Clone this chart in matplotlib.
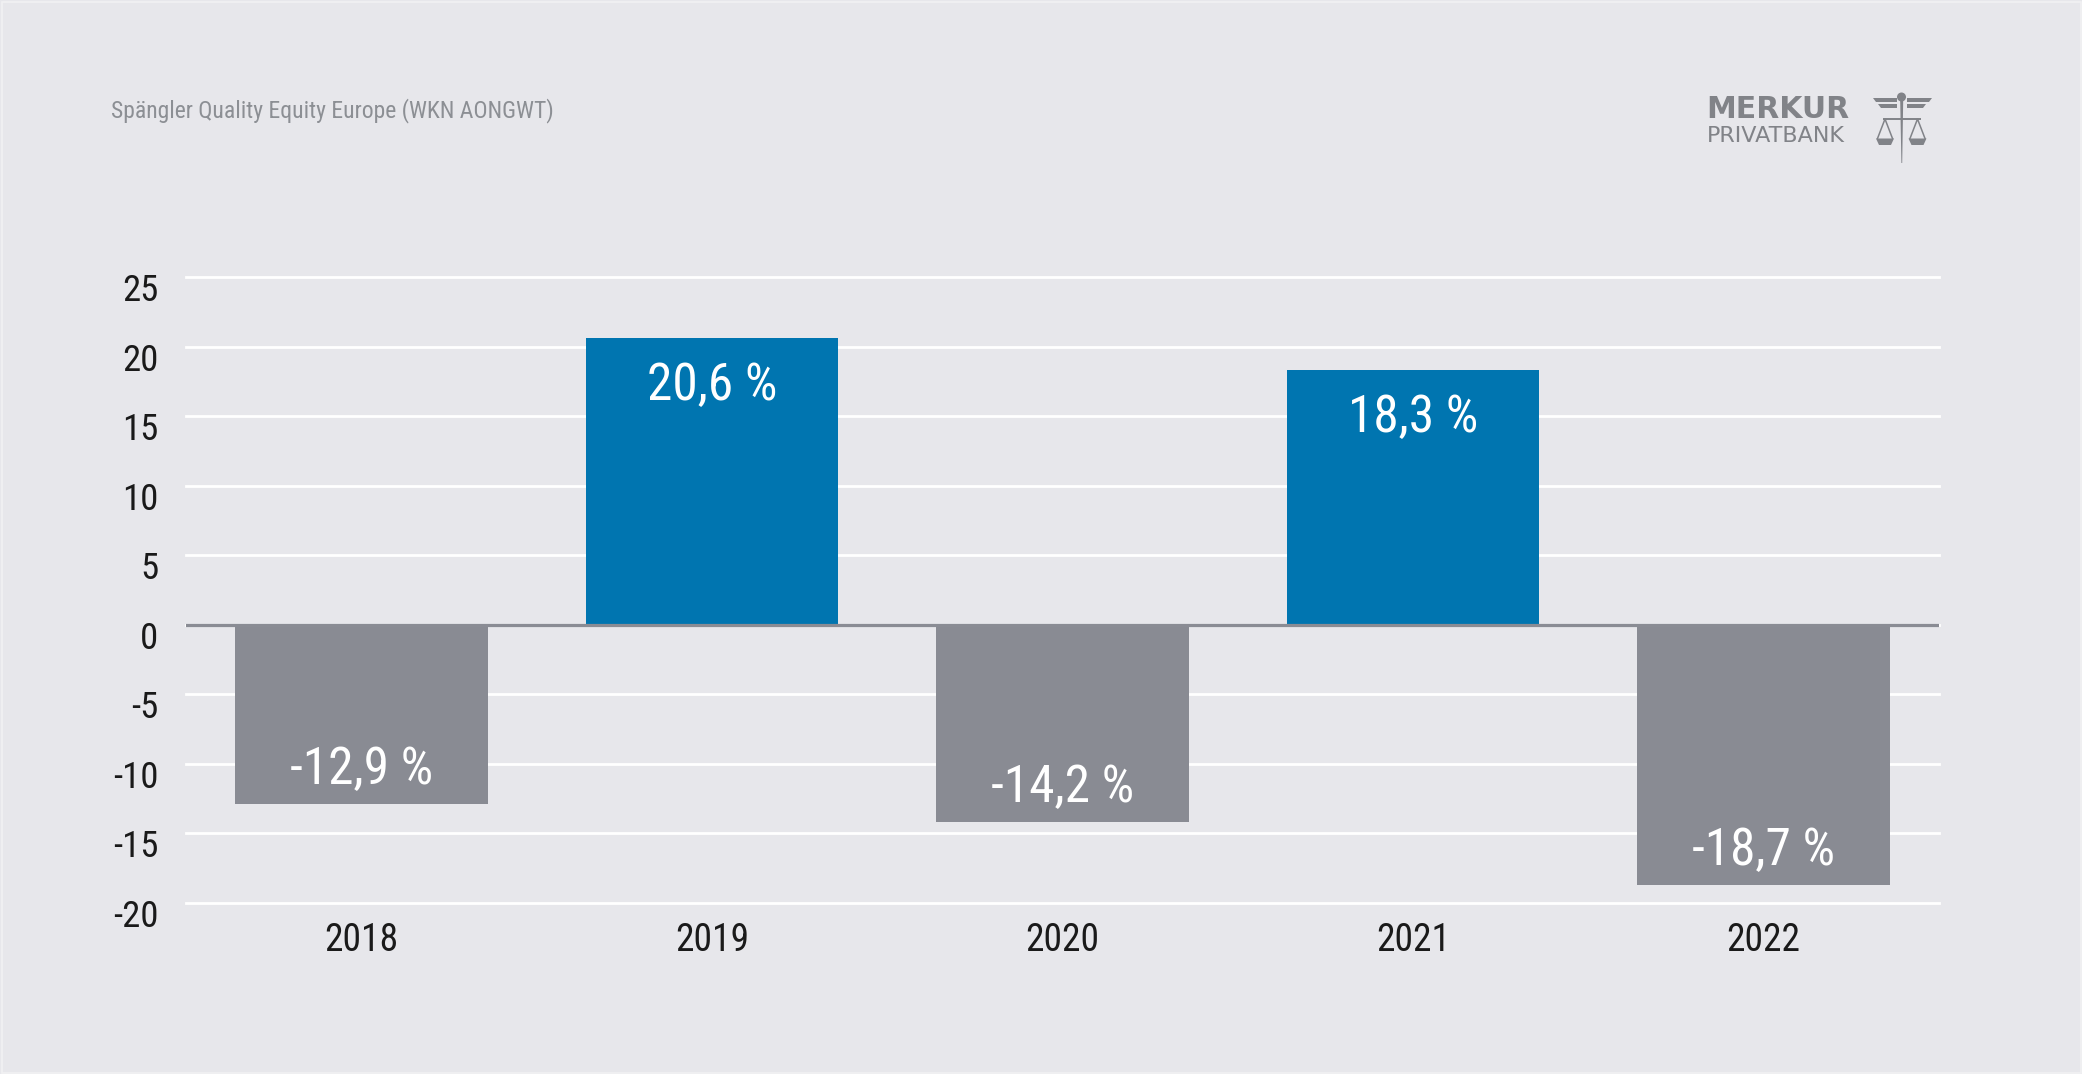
import matplotlib
matplotlib.use("Agg")
import matplotlib.pyplot as plt
from matplotlib import font_manager as fm
from matplotlib.patches import Polygon, Circle, Rectangle
from matplotlib.transforms import ScaledTranslation

# ---- data ----
years = ["2018", "2019", "2020", "2021", "2022"]
returns = [-12.9, 20.6, -14.2, 18.3, -18.7]
value_labels = ["-12,9 %", "20,6 %", "-14,2 %", "18,3 %", "-18,7 %"]
yticks = [-20, -15, -10, -5, 0, 5, 10, 15, 20, 25]
title = "Spängler Quality Equity Europe (WKN AONGWT)"
logo_top = "MERKUR"
logo_bottom = "PRIVATBANK"

# ---- style ----
BG = "#e7e7eb"
BLUE = "#0075b0"
GREY = "#898b93"
TXT = "#1a1a1a"
TITLE_C = "#8c8f94"
LOGO_C = "#818388"


def find_condensed():
    prefs = ["liberation sans narrow", "roboto condensed", "open sans condensed",
             "noto sans", "dejavu sans", "roboto", "lato", "open sans", "inter"]
    cands = []
    for f in fm.fontManager.ttflist:
        name = f.name.lower()
        fname = f.fname.lower()
        narrow = ("narrow" in name or "condensed" in name or "narrow" in fname
                  or "condensed" in fname or str(f.stretch) in ("condensed", "semi-condensed", "extra-condensed"))
        if not narrow:
            continue
        if f.style != "normal":
            continue
        if "bold" in fname or "light" in fname or "thin" in fname or "black" in fname \
                or "semibold" in fname or "medium" in fname or "extra" in fname:
            continue
        rank = len(prefs)
        for i, p in enumerate(prefs):
            if name.startswith(p):
                rank = i
                break
        cands.append((rank, f.fname))
    if cands:
        cands.sort()
        return fm.FontProperties(fname=cands[0][1])
    return fm.FontProperties(family=["Liberation Sans", "DejaVu Sans"])


BASE_FP = find_condensed()


def fp(size):
    p = BASE_FP.copy()
    p.set_size(size)
    return p


W, H = 2082, 1074
fig = plt.figure(figsize=(W / 100, H / 100), dpi=100, facecolor=BG)

# main axes (pixel box: x 186-1939, y 277-903)
ax = fig.add_axes([186 / W, 1 - 903 / H, (1939 - 186) / W, (903 - 277) / H])
ax.set_facecolor(BG)
x = list(range(len(years)))
colors = [BLUE if v > 0 else GREY for v in returns]
ax.bar(x, returns, width=0.72, color=colors, zorder=3)
ax.set_xlim(-0.5, len(years) - 0.5)
ax.set_ylim(min(yticks), max(yticks))
ax.set_yticks(yticks)
ax.set_yticklabels([str(t) for t in yticks])
ax.set_xticks(x)
ax.set_xticklabels(years)
ax.grid(axis="y", color="white", linewidth=2, zorder=1)
for gl in ax.get_ygridlines():
    gl.set_clip_on(False)
ax.set_axisbelow(True)
ax.axhline(0, color="#8a8c94", linewidth=2.3, zorder=4)
for s in ax.spines.values():
    s.set_visible(False)
ax.tick_params(axis="y", length=0, pad=20, labelcolor=TXT)
ax.tick_params(axis="x", length=0, pad=14, labelcolor=TXT)
shift = ScaledTranslation(0, -10 / 100, fig.dpi_scale_trans)
for lab in ax.get_yticklabels():
    lab.set_fontproperties(fp(26.5))
    lab.set_transform(lab.get_transform() + shift)
for lab in ax.get_xticklabels():
    lab.set_fontproperties(fp(27))

for xi, v, lbl in zip(x, returns, value_labels):
    off = -44.6 if v > 0 else 14.4
    ax.annotate(lbl, (xi, v), xytext=(0, off), textcoords="offset points",
                ha="center", va="baseline", color="white", fontproperties=fp(37), zorder=5)

# title
fig.text(111 / W, 1 - 117 / H, title, fontproperties=fp(17), color=TITLE_C,
         ha="left", va="baseline")

# logo overlay (image pixel coordinates)
ov = fig.add_axes([0, 0, 1, 1], facecolor="none")
ov.set_xlim(0, W)
ov.set_ylim(H, 0)
ov.axis("off")

ov.text(1706, 118.5, logo_top, fontsize=21.5, fontweight="bold", color=LOGO_C,
        family=["DejaVu Sans"], ha="left", va="baseline")
ov.text(1707, 141.7, logo_bottom, fontsize=16, color=LOGO_C,
        family=["DejaVu Sans"], ha="left", va="baseline")

# emblem
ov.add_patch(Circle((1901.5, 97), 4.5, color=LOGO_C, lw=0))
ov.add_patch(Polygon([(1900.2, 100), (1903.2, 100), (1902.2, 163), (1901.4, 163)],
                     closed=True, color=LOGO_C, lw=0))
# wings
ov.add_patch(Polygon([(1872.7, 97.7), (1896.5, 97.7), (1896.5, 101.7), (1875.5, 101.7)],
                     closed=True, color=LOGO_C, lw=0))
ov.add_patch(Polygon([(1878, 104.3), (1896.5, 104.3), (1896.5, 108.3), (1880.5, 108.3)],
                     closed=True, color=LOGO_C, lw=0))
ov.add_patch(Polygon([(1931.7, 97.7), (1906.7, 97.7), (1906.7, 101.7), (1928.9, 101.7)],
                     closed=True, color=LOGO_C, lw=0))
ov.add_patch(Polygon([(1925.5, 104.3), (1906.7, 104.3), (1906.7, 108.3), (1923, 108.3)],
                     closed=True, color=LOGO_C, lw=0))
# beam
ov.plot([1883, 1921], [118.5, 118.5], color=LOGO_C, lw=1.4, solid_capstyle="butt")
# scales
for ax_c in (1885, 1917.5):
    ov.plot([ax_c - 7.5, ax_c, ax_c + 7.5], [138.5, 119, 138.5], color=LOGO_C, lw=1.1)
    ov.add_patch(Polygon([(ax_c - 9, 138.5), (ax_c + 9, 138.5), (ax_c + 6, 145),
                          (ax_c - 6, 145)], closed=True, color=LOGO_C, lw=0))

# light frame
ov.add_patch(Rectangle((1.5, 1.5), W - 3, H - 3, fill=False, edgecolor="#f1f1f3", lw=1.2))

fig.savefig("out.png", dpi=100, facecolor=BG)
